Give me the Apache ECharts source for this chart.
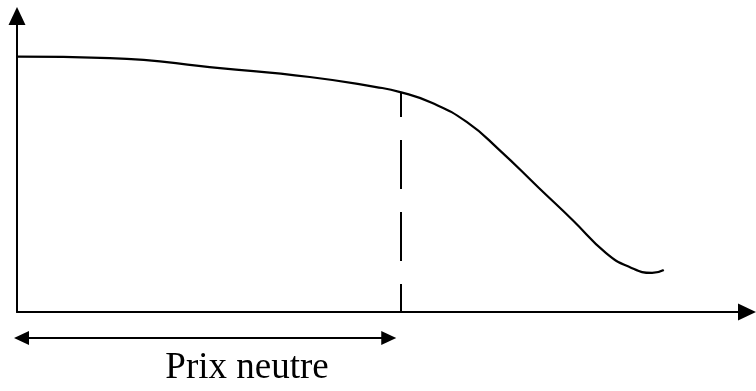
<!DOCTYPE html>
<html>
<head>
<meta charset="utf-8">
<script src="https://cdn.jsdelivr.net/npm/echarts@6/dist/echarts.min.js"></script>
<style>
  html, body { margin: 0; padding: 0; background: #fff; }
  #main { width: 756px; height: 391px; }
</style>
</head>
<body>
<div id="main"></div>
<script>
// demand curve (x: price, y: quantity), arbitrary 0-100 units
const priceX = [0, 12.7, 27.8, 40.1, 49.2, 52.5, 56.9, 61.6, 66.1, 71.5, 76.1, 80.7, 83.9, 87.0, 88.6];
const demandY = [86.3, 85.8, 82.4, 79.4, 76.0, 74.3, 70.6, 64.2, 54.7, 41.9, 31.1, 19.9, 15.2, 13.2, 14.2];
const neutralPrice = 52.5;
const neutralDemand = 74.3;
const rangeLabel = 'Prix neutre';

const chart = echarts.init(document.getElementById('main'), null, { renderer: 'canvas' });

const axisBase = {
  type: 'value',
  min: 0,
  max: 100,
  axisLine: {
    show: true,
    symbol: ['none', 'triangle'],
    symbolSize: [17, 18],
    lineStyle: { color: '#000', width: 2 }
  },
  axisTick: { show: false },
  axisLabel: { show: false },
  splitLine: { show: false }
};

chart.setOption({
  animation: false,
  grid: { left: 17, right: 9, top: 16, bottom: 79 },
  xAxis: Object.assign({}, axisBase),
  yAxis: Object.assign({}, axisBase),
  series: [{
    type: 'line',
    data: priceX.map((x, i) => [x, demandY[i]]),
    smooth: 0.5,
    showSymbol: false,
    lineStyle: { color: '#000', width: 2.2 },
    markLine: {
      silent: true,
      symbol: ['none', 'none'],
      label: { show: false },
      lineStyle: { color: '#000', width: 2, type: [49, 23], dashOffset: 24 },
      data: [[
        { coord: [neutralPrice, neutralDemand] },
        { coord: [neutralPrice, 0] }
      ]]
    }
  }]
});

// double arrow under the x axis, from the origin to the neutral price
const x0 = chart.convertToPixel({ xAxisIndex: 0 }, 0) - 3;
const x1 = chart.convertToPixel({ xAxisIndex: 0 }, neutralPrice) - 4;
const yArrow = 338;
const head = 15, half = 7;

chart.setOption({
  graphic: [
    {
      type: 'line',
      shape: { x1: x0 + head - 2, y1: yArrow, x2: x1 - head + 2, y2: yArrow },
      style: { stroke: '#000', lineWidth: 2 }
    },
    {
      type: 'polygon',
      shape: { points: [[x0, yArrow], [x0 + head, yArrow - half], [x0 + head, yArrow + half]] },
      style: { fill: '#000' }
    },
    {
      type: 'polygon',
      shape: { points: [[x1, yArrow], [x1 - head, yArrow - half], [x1 - head, yArrow + half]] },
      style: { fill: '#000' }
    },
    {
      type: 'text',
      x: 247,
      y: 368,
      style: {
        text: rangeLabel,
        font: '37px "Liberation Serif", "Times New Roman", serif',
        fill: '#000',
        align: 'center',
        verticalAlign: 'middle'
      }
    }
  ]
});
</script>
</body>
</html>
